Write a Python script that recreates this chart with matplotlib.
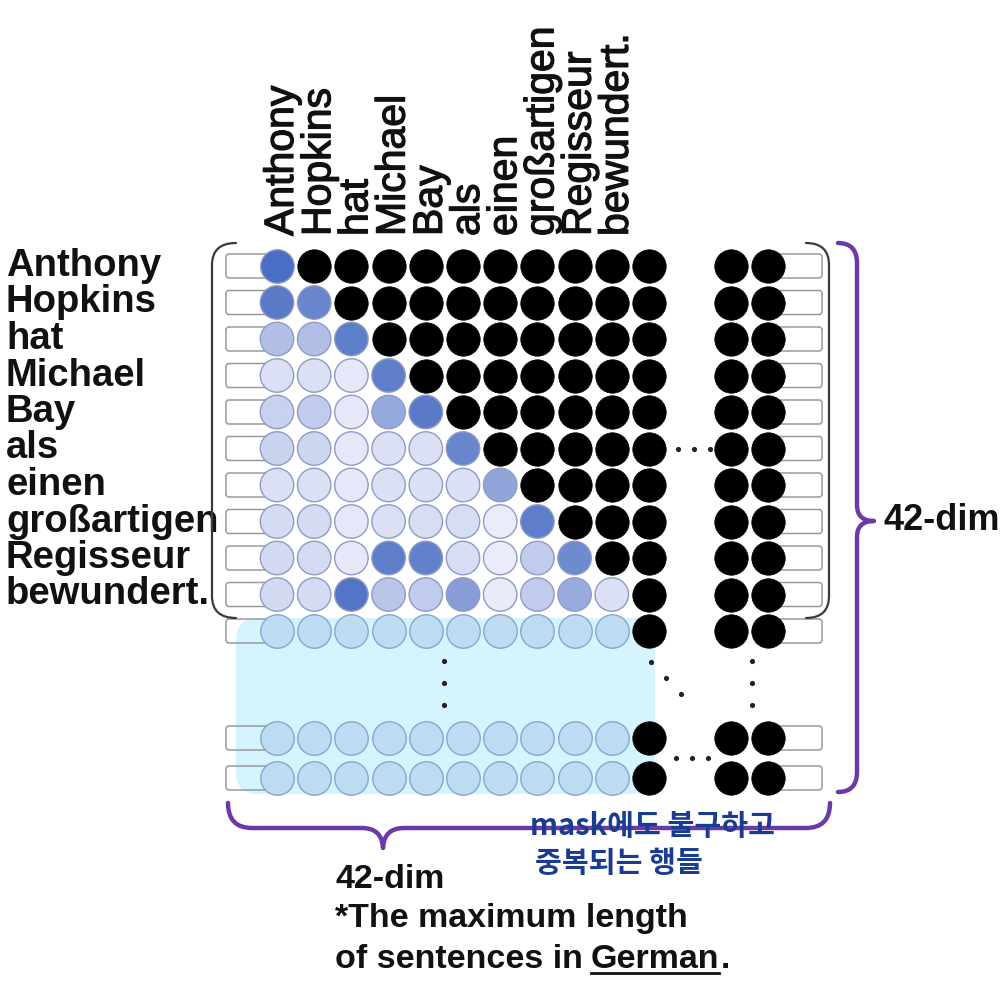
import matplotlib
matplotlib.use("Agg")
import matplotlib.pyplot as plt
import matplotlib.patheffects as pe
from matplotlib.path import Path
from matplotlib.patches import PathPatch, FancyBboxPatch
from matplotlib.colors import LinearSegmentedColormap

# ---------------- data ----------------
words = ["Anthony", "Hopkins", "hat", "Michael", "Bay", "als", "einen",
         "großartigen", "Regisseur", "bewundert."]
# attention weights (lower triangle incl. diagonal), row = query word
attn = [
    [1.00],
    [0.92, 0.85],
    [0.45, 0.45, 0.90],
    [0.15, 0.15, 0.08, 0.90],
    [0.30, 0.35, 0.08, 0.62, 0.92],
    [0.28, 0.25, 0.08, 0.15, 0.15, 0.85],
    [0.15, 0.15, 0.08, 0.15, 0.15, 0.15, 0.65],
    [0.20, 0.20, 0.08, 0.15, 0.18, 0.18, 0.03, 0.90],
    [0.22, 0.20, 0.08, 0.90, 0.88, 0.18, 0.03, 0.35, 0.82],
    [0.22, 0.20, 0.95, 0.40, 0.35, 0.70, 0.05, 0.35, 0.60, 0.15],
]
pad_rows = 3          # padded rows shown below the sentence
dim_label = "42-dim"
note_lines = ["*The maximum length", "of sentences in", "German", "."]
korean_note = ["mask에도 불구하고", "중복되는 행들"]

# ---------------- layout ----------------
W, H = 1000, 1006
fig = plt.figure(figsize=(W / 100, H / 100), dpi=100)
ax = fig.add_axes([0, 0, 1, 1])
ax.set_xlim(0, W)
ax.set_ylim(H, 0)
ax.axis("off")

x0, dx = 277, 37.2
y0, dy = 266, 36.5
pad_y = [y0 + 10 * dy, 738, 778]
xr = [731, 768]
n = len(words)
col_x = [x0 + i * dx for i in range(n + 1)]
row_y = [y0 + i * dy for i in range(n)]

cmap = LinearSegmentedColormap.from_list(
    "att", ["#eef0fa", "#c3cdec", "#8fa3da", "#4a6ec3"])

FONT = "Liberation Sans"
PURPLE = "#6a3aa8"

# light blue padded area
bg = FancyBboxPatch((236, 618), 419, 176,
                    boxstyle="round,pad=0,rounding_size=22",
                    facecolor="#d6f4fd", edgecolor="none", zorder=0)
ax.add_patch(bg)

all_rows = row_y + pad_y
for y in all_rows:
    ax.add_patch(FancyBboxPatch((226, y - 12), 44, 24,
                                boxstyle="round,pad=0,rounding_size=3",
                                facecolor="none", edgecolor="#9a9a9a",
                                lw=1.1, zorder=1))
    ax.add_patch(FancyBboxPatch((776, y - 12), 46, 24,
                                boxstyle="round,pad=0,rounding_size=3",
                                facecolor="white", edgecolor="#9a9a9a",
                                lw=1.1, zorder=1))

S = 580
# attention circles and masked (black) circles
for r in range(n):
    vals = attn[r]
    xs = [col_x[c] for c in range(len(vals))]
    ax.scatter(xs, [row_y[r]] * len(vals), s=S, c=[cmap(v) for v in vals],
               edgecolors="#8e9bc6", linewidths=1.0, zorder=3)
    xb = [col_x[c] for c in range(len(vals), n + 1)] + xr
    ax.scatter(xb, [row_y[r]] * len(xb), s=S, c="black",
               edgecolors="black", linewidths=0.5, zorder=3)

# padded rows
for y in pad_y:
    ax.scatter(col_x[:n], [y] * n, s=S, c="#bddcf2",
               edgecolors="#86a6d0", linewidths=1.0, zorder=3)
    xb = [col_x[n]] + xr
    ax.scatter(xb, [y] * len(xb), s=S, c="black",
               edgecolors="black", linewidths=0.5, zorder=3)

# ellipsis dots
dot_kw = dict(s=14, c="#222222", zorder=4, linewidths=0)
vy = [661, 683, 705]
ax.scatter([(col_x[4] + col_x[5]) / 2] * 3, vy, **dot_kw)
ax.scatter([752] * 3, vy, **dot_kw)
ax.scatter([651, 666, 681], [662, 678, 694], **dot_kw)
ax.scatter([678, 694, 710], [row_y[5]] * 3, **dot_kw)
ax.scatter([676, 692, 708], [(pad_y[1] + pad_y[2]) / 2] * 3, **dot_kw)

# row labels
for y, w in zip(row_y, words):
    ax.text(6, y, w, fontsize=27.5, fontweight="bold", family=FONT,
            ha="left", va="center", color="#111111", zorder=5)

# column labels (medium weight look)
for x, w in zip(col_x, words):
    ax.text(x + 5, 236, w, fontsize=29.5, family=FONT, rotation=90,
            ha="center", va="bottom", color="#111111", zorder=5,
            path_effects=[pe.withStroke(linewidth=0.9, foreground="#111111")])


def draw_path(pts, codes, color, lw):
    ax.add_patch(PathPatch(Path(pts, codes), facecolor="none",
                           edgecolor=color, lw=lw, capstyle="round",
                           joinstyle="round", zorder=6))


M, L, C = Path.MOVETO, Path.LINETO, Path.CURVE3
# grey brackets around the sentence rows
draw_path([(236, 243), (212, 243), (212, 265), (212, 596), (212, 618), (236, 618)],
          [M, C, C, L, C, C], "#3a3a3a", 1.6)
draw_path([(806, 243), (829, 243), (829, 265), (829, 596), (829, 618), (806, 618)],
          [M, C, C, L, C, C], "#3a3a3a", 1.6)

# purple braces
draw_path([(838, 243), (857, 243), (857, 263), (857, 505), (857, 521), (874, 521),
           (857, 521), (857, 537), (857, 772), (857, 792), (838, 792)],
          [M, C, C, L, C, C, C, C, L, C, C], PURPLE, 3.2)
draw_path([(228, 803), (228, 828), (252, 828), (362, 828), (382, 828), (383, 848),
           (384, 828), (404, 828), (806, 828), (830, 828), (830, 803)],
          [M, C, C, L, C, C, C, C, L, C, C], PURPLE, 3.2)

ax.text(884, 521, dim_label, fontsize=26, fontweight="bold", family=FONT,
        ha="left", va="center", color="#111111", zorder=7)

# bottom notes
tkw = dict(fontsize=24.5, fontweight="bold", family=FONT, color="#111111",
           va="center", ha="left", zorder=7)
ax.text(335, 880, dim_label, **tkw)
ax.text(335, 919, note_lines[0], **tkw)
t1 = ax.text(335, 959, note_lines[1], **tkw)
fig.canvas.draw()
bb1 = t1.get_window_extent()
inv = ax.transData.inverted()
x_end = inv.transform((bb1.x1, bb1.y0))[0]
t2 = ax.text(x_end + 8, 959, note_lines[2], **tkw)
fig.canvas.draw()
bb2 = t2.get_window_extent()
xa, ya = inv.transform((bb2.x0, bb2.y0))
xb_, _ = inv.transform((bb2.x1, bb2.y0))
ax.text(xb_ + 1, 959, note_lines[3], **tkw)
ax.plot([xa, xb_], [973, 973], color="#111111", lw=2, zorder=7)

# handwritten Korean annotation
ax.text(530, 826, korean_note[0], fontsize=21, color="#1a3c90",
        fontweight="bold", family=["Noto Sans CJK KR", "DejaVu Sans"],
        ha="left", va="center", zorder=8)
ax.text(535, 863, korean_note[1], fontsize=21, color="#1a3c90",
        fontweight="bold", family=["Noto Sans CJK KR", "DejaVu Sans"],
        ha="left", va="center", zorder=8)

fig.savefig("out.png", dpi=100, facecolor="white")
